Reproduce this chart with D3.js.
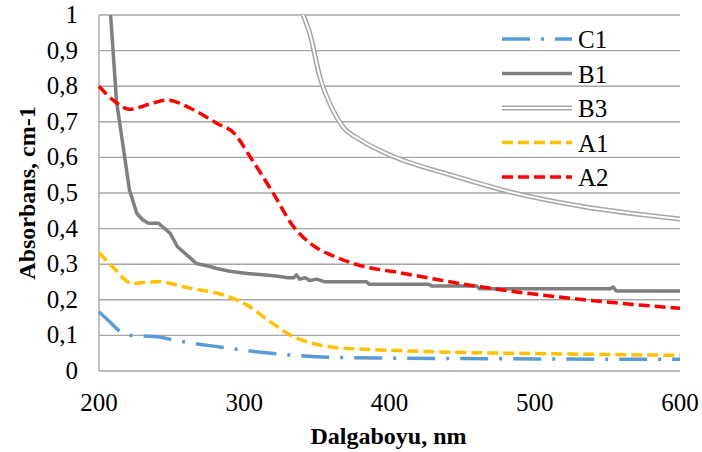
<!DOCTYPE html>
<html>
<head>
<meta charset="utf-8">
<script src="https://cdn.jsdelivr.net/npm/d3@7"></script>
</head>
<body style="margin:0">
<svg id="chart" width="702" height="452" font-family="Liberation Serif"></svg>
<script>
// Data (wavelength nm, absorbance)
const c1 = [
  [200, 0.166], [207, 0.14], [214, 0.113], [222, 0.1], [240, 0.096], [254, 0.085],
  [275, 0.072], [295, 0.061], [315, 0.051], [336, 0.044], [364, 0.038],
  [400, 0.036], [450, 0.035], [500, 0.034], [550, 0.033], [600, 0.033]
];
const b1 = [
  [208, 1.0], [212, 0.76], [217, 0.62], [221, 0.508], [226, 0.443], [230, 0.425],
  [234, 0.415], [241, 0.415], [249, 0.387], [254, 0.349], [263, 0.317], [267, 0.302],
  [275, 0.295], [281, 0.288], [290, 0.28], [302, 0.274], [322, 0.267], [330, 0.262],
  [334, 0.262], [336, 0.27], [338, 0.258], [342, 0.262], [345, 0.254], [350, 0.258],
  [355, 0.251], [384, 0.251], [386, 0.244], [427, 0.244], [429, 0.239], [460, 0.239],
  [462, 0.231], [552, 0.231], [554, 0.236], [556, 0.225], [600, 0.225]
];
const b3 = [
  [340.5, 1.0], [345, 0.95], [352, 0.827], [361, 0.733], [368, 0.686], [380, 0.649],
  [403, 0.602], [442, 0.551], [485, 0.501], [533, 0.462], [600, 0.427]
];
const a1 = [
  [200, 0.333], [210, 0.29], [223, 0.246], [240, 0.251], [263, 0.232], [286, 0.213],
  [302, 0.185], [318, 0.138], [334, 0.096], [345, 0.08], [362, 0.066], [390, 0.06],
  [430, 0.054], [500, 0.049], [600, 0.044]
];
const a2 = [
  [200, 0.8], [210, 0.76], [221, 0.735], [235, 0.75], [247, 0.761], [263, 0.738],
  [281, 0.696], [293, 0.668], [304, 0.602], [320, 0.499], [334, 0.405], [345, 0.36],
  [365, 0.317], [375, 0.302], [410, 0.274], [465, 0.235], [525, 0.204], [600, 0.176]
];

const seriesNames = ["C1", "B1", "B3", "A1", "A2"];
const seriesData = [c1, b1, b3, a1, a2];
const xTicks = [200, 300, 400, 500, 600];
const yTicks = [0, 0.1, 0.2, 0.3, 0.4, 0.5, 0.6, 0.7, 0.8, 0.9, 1];

const styles = {
  C1: { color: "#5b9bd5", width: 3.5, dash: "28,11,3,11", curve: d3.curveMonotoneX },
  B1: { color: "#7f7f7f", width: 3.5, dash: null, curve: d3.curveLinear },
  B3: { color: "#a5a5a5", width: 5, dash: null, curve: d3.curveMonotoneX, double: true },
  A1: { color: "#ffc000", width: 3.5, dash: "11,5", curve: d3.curveMonotoneX },
  A2: { color: "#ff0000", width: 3.5, dash: "11,5", curve: d3.curveMonotoneX }
};

const width = 702, height = 452;
const margin = { top: 15, right: 22, bottom: 81, left: 99 };
const innerW = width - margin.left - margin.right;
const innerH = height - margin.top - margin.bottom;

const svg = d3.select("#chart");
const g = svg.append("g").attr("transform", `translate(${margin.left},${margin.top})`);

const x = d3.scaleLinear().domain([200, 600]).range([0, innerW]);
const y = d3.scaleLinear().domain([0, 1]).range([innerH, 0]);

const fmt = (d) => String(d).replace(".", ",");

// gridlines
g.append("g")
  .selectAll("line")
  .data(yTicks.slice(1))
  .enter()
  .append("line")
  .attr("x1", 0)
  .attr("x2", innerW)
  .attr("y1", (d) => y(d))
  .attr("y2", (d) => y(d))
  .attr("stroke", "#a6a6a6")
  .attr("stroke-width", 1.4);

// axes (build ticks by hand so no inherited sans-serif attr)
const yAxisG = g.append("g");
yAxisG.append("line").attr("x1", 0).attr("x2", 0).attr("y1", 0).attr("y2", innerH)
  .attr("stroke", "#a6a6a6").attr("stroke-width", 1.4);
yAxisG.selectAll("text").data(yTicks).enter().append("text")
  .attr("x", -21)
  .attr("y", (d) => y(d))
  .attr("dy", "0.32em")
  .attr("text-anchor", "end")
  .attr("font-family", "Liberation Serif")
  .attr("font-size", 25)
  .text(fmt);

const xAxisG = g.append("g").attr("transform", `translate(0,${innerH})`);
xAxisG.append("line").attr("x1", 0).attr("x2", innerW)
  .attr("stroke", "#a6a6a6").attr("stroke-width", 1.4);
xAxisG.selectAll("text").data(xTicks).enter().append("text")
  .attr("x", (d) => x(d))
  .attr("y", 40)
  .attr("text-anchor", "middle")
  .attr("font-family", "Liberation Serif")
  .attr("font-size", 25)
  .text((d) => d);

// clip
svg.append("clipPath").attr("id", "plot-clip")
  .append("rect").attr("x", -2).attr("y", -2).attr("width", innerW + 4).attr("height", innerH + 4);

const plot = g.append("g").attr("clip-path", "url(#plot-clip)");

seriesNames.forEach((name, i) => {
  const s = styles[name];
  const line = d3.line().x((d) => x(d[0])).y((d) => y(d[1])).curve(s.curve);
  const path = plot.append("path")
    .datum(seriesData[i])
    .attr("d", line)
    .attr("fill", "none")
    .attr("stroke", s.color)
    .attr("stroke-width", s.width)
    .attr("stroke-linejoin", "round");
  if (s.dash) path.attr("stroke-dasharray", s.dash);
  if (s.double) {
    plot.append("path")
      .datum(seriesData[i])
      .attr("d", line)
      .attr("fill", "none")
      .attr("stroke", "#fff")
      .attr("stroke-width", 2);
  }
});

// legend
const legend = svg.append("g").attr("transform", "translate(502,39)");
seriesNames.forEach((name, i) => {
  const s = styles[name];
  const row = legend.append("g").attr("transform", `translate(0,${i * 34.5})`);
  const ln = row.append("line")
    .attr("x1", 0).attr("x2", 70)
    .attr("stroke", s.color)
    .attr("stroke-width", s.width);
  if (s.dash) ln.attr("stroke-dasharray", s.dash);
  if (s.double) {
    row.append("line").attr("x1", 0).attr("x2", 70).attr("stroke", "#fff").attr("stroke-width", 2);
  }
  row.append("text")
    .attr("x", 76)
    .attr("y", 9)
    .attr("font-family", "Liberation Serif")
    .attr("font-size", 25)
    .text(name);
});

// axis titles
svg.append("text")
  .attr("x", margin.left + innerW / 2 - 1)
  .attr("y", 444)
  .attr("text-anchor", "middle")
  .attr("font-family", "Liberation Serif")
  .attr("font-weight", "bold")
  .attr("font-size", 24)
  .text("Dalgaboyu, nm");

svg.append("text")
  .attr("transform", `translate(35,${margin.top + innerH / 2}) rotate(-90)`)
  .attr("text-anchor", "middle")
  .attr("font-family", "Liberation Serif")
  .attr("font-weight", "bold")
  .attr("font-size", 24)
  .text("Absorbans, cm-1");
</script>
</body>
</html>
